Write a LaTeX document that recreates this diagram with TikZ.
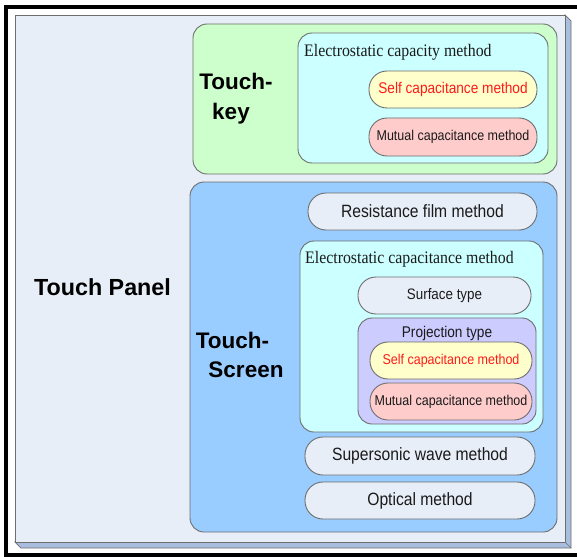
\documentclass[tikz,border=0pt]{standalone}
\usepackage{fontspec}
\setmainfont{Liberation Sans}
\newfontfamily\condf[FakeStretch=0.88]{Liberation Sans}
\newfontfamily\serifc[FakeStretch=0.9]{Liberation Serif}
\definecolor{panelbg}{HTML}{E8EEF8}
\definecolor{panelside}{HTML}{A9BEDE}
\definecolor{edgegrey}{HTML}{6E6E6E}
\definecolor{keygreen}{HTML}{CCFFCC}
\definecolor{cyanbox}{HTML}{CCFFFF}
\definecolor{yellowpill}{HTML}{FFFFCC}
\definecolor{pinkpill}{HTML}{FFCCCC}
\definecolor{screenblue}{HTML}{99CCFF}
\definecolor{lavender}{HTML}{CCCCFF}
\definecolor{textdark}{HTML}{1A1A1A}
\definecolor{selfred}{HTML}{FF1A1A}
\tikzset{
  bigbox/.style={draw=edgegrey, line width=0.9pt, rounded corners=14pt, inner sep=0pt},
  pill/.style={draw=edgegrey, line width=0.9pt, rounded corners=18pt, inner sep=0pt, text=textdark},
  bigtext/.style={font={\bfseries\fontsize{22.5pt}{26pt}\selectfont}, inner sep=0pt, anchor=base, text=black},
  methodtext/.style={font={\condf\fontsize{17.8pt}{20pt}\selectfont}},
  smalltext/.style={font={\condf\fontsize{14.2pt}{17pt}\selectfont}},
  seriflabel/.style={font={\serifc\fontsize{17.6pt}{20pt}\selectfont}, inner sep=0pt, anchor=base west, text=textdark},
}
\begin{document}
\begin{tikzpicture}[x=1pt,y=-1pt]
\useasboundingbox (0,0) rectangle (577,556);
\begin{scope}
\clip (0,0) rectangle (577,556);
\fill[white] (0,0) rectangle (577,556);
% outer black frame
\draw[line width=4pt] (6,7) rectangle (600,554.5);
% panel extrusion
\filldraw[fill=panelside, draw=edgegrey, line width=0.7pt]
  (565,15) -- (571,21) -- (571,548) -- (21,548) -- (15,542) -- (565,542) -- cycle;
\draw[edgegrey, line width=0.7pt] (565,542) -- (571,548);
\end{scope}
% panel
\node[draw=edgegrey, line width=0.9pt, fill=panelbg, minimum width=550pt, minimum height=527pt, inner sep=0pt] (panel) at (290,278.5) {};
\node[bigtext, font={\bfseries\fontsize{23.3pt}{26pt}\selectfont}] (tp) at (102.5,295) {Touch Panel};

% Touch-key
\node[bigbox, fill=keygreen, minimum width=364pt, minimum height=150pt] (touchkey) at (375,99) {};
\node[bigtext] (tk1) at (236,90) {Touch-};
\node[bigtext] (tk2) at (231,120) {key};
\node[bigbox, fill=cyanbox, minimum width=250pt, minimum height=130pt] (ecm1) at (423,98) {};
\node[seriflabel] (ecm1lab) at (304,57) {Electrostatic capacity method};
\node[pill, fill=yellowpill, minimum width=168pt, minimum height=37pt, text=selfred, methodtext, font={\condf\fontsize{15.5pt}{18pt}\selectfont}] (self1) at (453,89.5) {Self capacitance method};
\node[pill, fill=pinkpill, minimum width=168pt, minimum height=38pt, smalltext] (mut1) at (453,137) {Mutual capacitance method};

% Touch-Screen
\node[bigbox, fill=screenblue, minimum width=367pt, minimum height=350pt] (touchscreen) at (373.5,357) {};
\node[bigtext] (ts1) at (232.5,348) {Touch-};
\node[bigtext] (ts2) at (246,377) {Screen};
\node[pill, fill=panelbg, minimum width=229pt, minimum height=37pt, methodtext] (res) at (422.5,211.5) {Resistance film method};
\node[bigbox, fill=cyanbox, minimum width=243pt, minimum height=191pt] (ecm2) at (421.5,336.5) {};
\node[seriflabel] (ecm2lab) at (305,263) {Electrostatic capacitance method};
\node[pill, fill=panelbg, minimum width=173pt, minimum height=37pt, font={\condf\fontsize{15.2pt}{18pt}\selectfont}] (surface) at (444.5,295.5) {Surface type};
\node[bigbox, fill=lavender, minimum width=178pt, minimum height=106pt] (proj) at (447,371) {};
\node[inner sep=0pt, anchor=base, text=textdark, font={\condf\fontsize{15.5pt}{18pt}\selectfont}] (projlab) at (447,337) {Projection type};
\node[pill, fill=yellowpill, minimum width=162pt, minimum height=37pt, text=selfred, smalltext] (self2) at (451,360.5) {Self capacitance method};
\node[pill, fill=pinkpill, minimum width=162pt, minimum height=37pt, smalltext] (mut2) at (451,401.5) {Mutual capacitance method};
\node[pill, fill=panelbg, minimum width=230pt, minimum height=38pt, methodtext] (super) at (420,456) {Supersonic wave method};
\node[pill, fill=panelbg, minimum width=230pt, minimum height=37pt, methodtext] (optical) at (420,500.5) {Optical method};
\end{tikzpicture}
\end{document}
